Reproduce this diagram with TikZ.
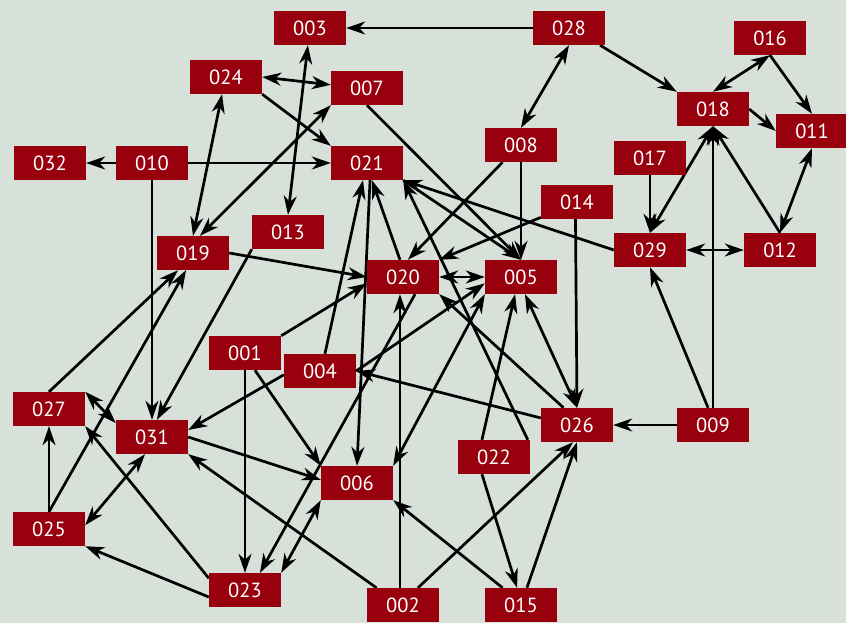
\documentclass[tikz,border=0pt]{standalone}
\usepackage{fontspec}
\newfontfamily\labelfont{PT Sans}
\usetikzlibrary{arrows.meta}
\definecolor{bgcol}{RGB}{215,224,217}
\definecolor{boxred}{RGB}{152,0,14}
\pgfdeclarelayer{back}
\pgfdeclarelayer{edges}
\pgfsetlayers{back,edges,main}
\begin{document}
\begin{tikzpicture}[x=1pt,y=-1pt,
  box/.style={fill=boxred,text=white,minimum width=72pt,minimum height=34pt,inner sep=0pt,
    font=\labelfont\fontsize{20.5}{20.5}\selectfont},
  tip/.tip={Stealth[length=19pt,width=13pt,inset=6pt]},
  conn/.style={line width=2.7pt,-tip},
  biconn/.style={line width=2.7pt,tip-tip}]
\begin{pgfonlayer}{back}
\fill[bgcol] (0,0) rectangle (846,623);
\end{pgfonlayer}
\useasboundingbox (0,0) rectangle (846,623);
% nodes
\node[box] (n003) at (310,28) {003};
\node[box] (n028) at (569,28) {028};
\node[box] (n016) at (770,38) {016};
\node[box] (n024) at (226,77) {024};
\node[box] (n007) at (367,88) {007};
\node[box] (n018) at (713,109) {018};
\node[box] (n011) at (812,131) {011};
\node[box] (n008) at (521,145) {008};
\node[box] (n017) at (650,158) {017};
\node[box] (n032) at (50,163) {032};
\node[box] (n010) at (152,163) {010};
\node[box] (n021) at (367,163) {021};
\node[box] (n014) at (577,202) {014};
\node[box] (n013) at (288,232) {013};
\node[box] (n019) at (193,253) {019};
\node[box] (n029) at (650,250) {029};
\node[box] (n012) at (780,250) {012};
\node[box] (n020) at (403,277) {020};
\node[box] (n005) at (521,277) {005};
\node[box] (n001) at (245,353) {001};
\node[box] (n004) at (320,371) {004};
\node[box] (n027) at (49,409) {027};
\node[box] (n031) at (152,437) {031};
\node[box] (n026) at (577,425) {026};
\node[box] (n009) at (713,425) {009};
\node[box] (n022) at (494,457) {022};
\node[box] (n006) at (357,483) {006};
\node[box] (n025) at (49,529) {025};
\node[box] (n023) at (245,590) {023};
\node[box] (n002) at (403,605) {002};
\node[box] (n015) at (521,605) {015};
% connectors
\begin{pgfonlayer}{edges}
\draw[conn] (n028.west) -- (n003.east);
\draw[conn] (n028.-29) -- (n018.north west);
\draw[biconn] (n028.south) -- (n008.north);
\draw[biconn] (n016.south) -- (n018.north);
\draw[conn] (n016.south) -- (n011.north);
\draw[conn] (n018.east) -- (n011.west);
\draw[biconn] (n011.south) -- (n012.north);
\draw[conn] (n012.north) -- (n018.south);
\draw[conn] (n009.north) -- (n018.south);
\draw[biconn] (n018.south) -- (n029.north);
\draw[conn] (n017.south) -- (n029.north);
\draw[biconn] (n029.east) -- (n012.west);
\draw[conn] (n009.106) -- (n029.south);
\draw[conn] (n009.west) -- (n026.east);
\draw[conn] (n029.west) -- (n021.south east);
\draw[conn] (n014.203) -- (n020.north east);
\draw[conn] (n014.-95) -- (n026.north);
\draw[conn] (n008.south) -- (n005.north);
\draw[conn] (n008.223) -- (n020.74);
\draw[conn] (n007.south) -- (n005.north);
\draw[conn] (n021.south east) -- (n005.north);
\draw[conn] (n020.100) -- (n021.-74);
\draw[conn] (n004.74) -- (n021.-103);
\draw[conn] (n021.-80) -- (n006.north);
\draw[conn] (n022.27) -- (n021.south east);
\draw[biconn] (n020.east) -- (n005.west);
\draw[biconn] (n005.-77) -- (n026.north);
\draw[conn] (n022.125) -- (n005.-109);
\draw[biconn] (n006.north east) -- (n005.south west);
\draw[conn] (n004.east) -- (n005.190);
\draw[conn] (n026.169) -- (n004.east);
\draw[conn] (n026.128) -- (n020.south east);
\draw[conn] (n002.100) -- (n020.-100);
\draw[conn] (n020.-55) -- (n023.49);
\draw[biconn] (n006.south west) -- (n023.north east);
\draw[conn] (n001.south) -- (n023.north);
\draw[conn] (n001.-60) -- (n006.north west);
\draw[conn] (n001.north east) -- (n020.190);
\draw[conn] (n019.east) -- (n020.west);
\draw[conn] (n010.west) -- (n032.east);
\draw[conn] (n010.east) -- (n021.west);
\draw[conn] (n010.south) -- (n031.north);
\draw[conn] (n013.south west) -- (n031.74);
\draw[conn] (n004.186) -- (n031.11);
\draw[conn] (n031.east) -- (n006.175);
\draw[conn] (n002.147) -- (n031.south east);
\draw[biconn] (n031.-112) -- (n025.6);
\draw[biconn] (n027.north east) -- (n031.159);
\draw[conn] (n023.162) -- (n027.south east);
\draw[conn] (n023.191) -- (n025.south east);
\draw[conn] (n025.north) -- (n027.south);
\draw[conn] (n025.north) -- (n019.-112);
\draw[conn] (n027.north) -- (n019.-131);
\draw[biconn] (n024.-103) -- (n019.north);
\draw[biconn] (n007.south west) -- (n019.68);
\draw[biconn] (n024.east) -- (n007.175);
\draw[conn] (n024.south east) -- (n021.north west);
\draw[biconn] (n003.-97) -- (n013.north);
\draw[conn] (n002.49) -- (n026.-103);
\draw[conn] (n015.71) -- (n026.south);
\draw[conn] (n022.-125) -- (n015.103);
\draw[conn] (n015.137) -- (n006.south east);
\end{pgfonlayer}
\end{tikzpicture}
\end{document}
